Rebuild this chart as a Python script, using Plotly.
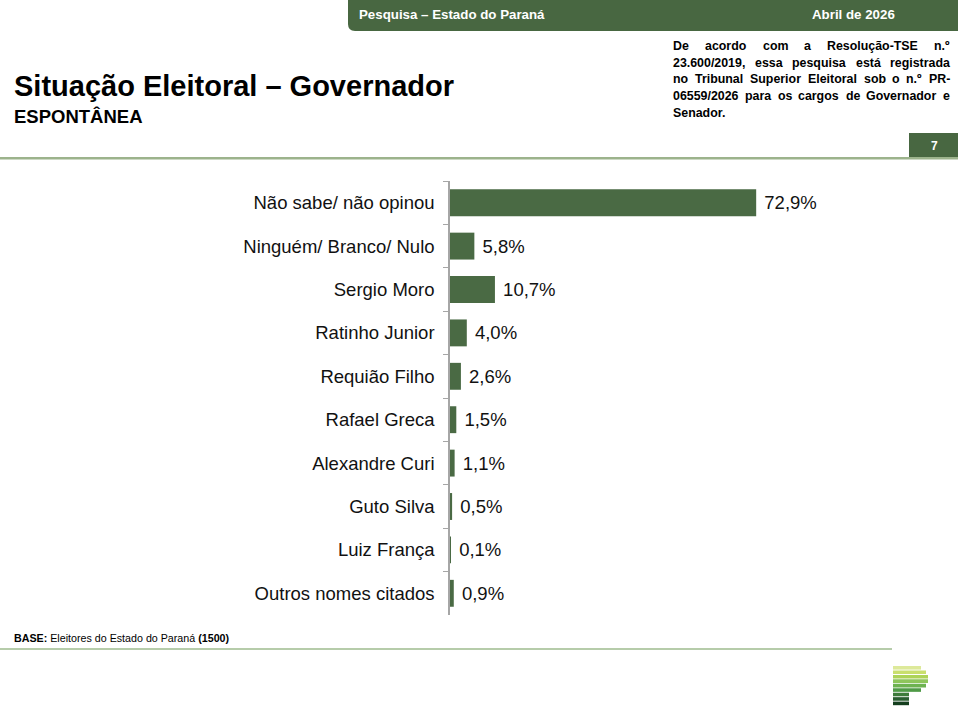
import plotly.graph_objects as go

categories = ["Não sabe/ não opinou", "Ninguém/ Branco/ Nulo", "Sergio Moro", "Ratinho Junior",
              "Requião Filho", "Rafael Greca", "Alexandre Curi", "Guto Silva", "Luiz França",
              "Outros nomes citados"]
values = [72.9, 5.8, 10.7, 4.0, 2.6, 1.5, 1.1, 0.5, 0.1, 0.9]

FIG_W, FIG_H = 958, 718
L, R, T, B = 450, 88, 181, 103
PW, PH = FIG_W - L - R, FIG_H - T - B

def px(x):
    return (x - L) / PW

def py(y):
    return (FIG_H - B - y) / PH

FONT = "Liberation Sans, Arial, sans-serif"
DARK = "#4a6a44"

fig = go.Figure()
fig.add_trace(go.Bar(
    y=categories, x=values, orientation="h",
    marker=dict(color=DARK, line=dict(width=0)),
    texttemplate="\u00a0%{x:.1f}%", textposition="outside",
    textfont=dict(family=FONT, size=18.5, color="#111111"),
    cliponaxis=False, hoverinfo="skip",
))

shapes = []
annotations = []

def note(x, y, text, size, color="black", xanchor="left"):
    annotations.append(dict(x=px(x), y=py(y), xref="paper", yref="paper", xanchor=xanchor,
                            yanchor="middle", text=text, showarrow=False,
                            font=dict(family=FONT, size=size, color=color)))

# header bar with rounded bottom-left
x0, x1, y0, y1, r = 348, 960, -2, 31, 7
path = (f"M {px(x0)},{py(y0)} L {px(x1)},{py(y0)} L {px(x1)},{py(y1)} "
        f"L {px(x0 + r)},{py(y1)} Q {px(x0)},{py(y1)} {px(x0)},{py(y1 - r)} Z")
shapes.append(dict(type="path", xref="paper", yref="paper", path=path,
                   fillcolor="#486741", line=dict(width=0), layer="below"))
note(357, 14, "<b>Pesquisa – Estado do Paraná</b>", 13.3, "white")
note(897, 14, "<b>Abril de 2026</b>", 13.3, "white", "right")

# title
note(12, 86, "<b>Situação Eleitoral – Governador</b>", 29)
note(12, 116, "<b>ESPONTÂNEA</b>", 18.5)

# registration note, justified word by word
W = {' ': 278, '.': 278, ',': 278, '/': 278, '-': 333, 'º': 365}
for ch in "0123456789":
    W[ch] = 556
W.update(dict(a=556, b=611, c=556, d=611, e=556, f=333, g=611, h=611, i=278, j=278, k=556, l=278,
              m=889, n=611, o=611, p=611, q=611, r=389, s=556, t=333, u=611, v=556, w=778, x=556,
              y=556, z=500, A=722, B=722, C=722, D=722, E=667, F=611, G=778, H=722, I=278, L=611,
              M=833, N=722, O=778, P=667, R=722, S=667, T=611, U=722, V=667))
W.update({'ç': 556, 'ã': 556, 'á': 556, 'ó': 611})

def text_w(s, size):
    return sum(W.get(c, 600) for c in s) * size / 1000

NOTE_SIZE = 12.4
note_lines = ["De acordo com a Resolução-TSE n.º",
              "23.600/2019, essa pesquisa está registrada",
              "no Tribunal Superior Eleitoral sob o n.º PR-",
              "06559/2026 para os cargos de Governador e",
              "Senador."]
NX0, NX1 = 671, 948
for i, line in enumerate(note_lines):
    yy = 46 + 16.7 * i
    words = line.split(" ")
    if i == len(note_lines) - 1:
        note(NX0, yy, f"<b>{line}</b>", NOTE_SIZE)
        continue
    total = sum(text_w(w, NOTE_SIZE) for w in words)
    gap = (NX1 - NX0 - total) / (len(words) - 1)
    x = NX0
    for w in words:
        note(x, yy, f"<b>{w}</b>", NOTE_SIZE)
        x += text_w(w, NOTE_SIZE) + gap

# separator line under title and page number box
shapes.append(dict(type="rect", xref="paper", yref="paper", x0=px(0), x1=px(960), y0=py(159.5), y1=py(157),
                   fillcolor="#9cb38c", line=dict(width=0)))
shapes.append(dict(type="rect", xref="paper", yref="paper", x0=px(909), x1=px(960), y0=py(157), y1=py(133),
                   fillcolor="#486741", line=dict(width=0)))
note(934, 146, "<b>7</b>", 12, "white", "center")

# base note and bottom line
note(12, 638, "<b>BASE:</b> Eleitores do Estado do Paraná <b>(1500)</b>", 10.7)
shapes.append(dict(type="line", xref="paper", yref="paper", x0=px(0), x1=px(892), y0=py(649), y1=py(649),
                   line=dict(color="#6f9a57", width=1.2)))

# logo stripes
logo_colors = ["#dde99a", "#c9df6e", "#add358", "#8ec55b", "#6db250", "#4f9a46", "#3d7b3a", "#2a5e30", "#143e1e"]
logo_right = [921, 926, 928, 928, 926, 921, 909, 909, 909]
for i, (c, xr) in enumerate(zip(logo_colors, logo_right)):
    ytop = 666 + i * 4.45
    shapes.append(dict(type="rect", xref="paper", yref="paper", x0=px(893), x1=px(xr),
                       y0=py(ytop + 3.6), y1=py(ytop), fillcolor=c, line=dict(width=0)))

fig.update_layout(
    width=FIG_W, height=FIG_H,
    margin=dict(l=L, r=R, t=T, b=B, autoexpand=False),
    paper_bgcolor="white", plot_bgcolor="white",
    separators=", ",
    showlegend=False,
    bargap=0.38,
    shapes=shapes, annotations=annotations,
    xaxis=dict(range=[0, 100], visible=False, fixedrange=True),
    yaxis=dict(autorange="reversed", type="category", fixedrange=True,
               showline=True, linecolor="#a6a6a6", linewidth=1.5,
               ticks="outside", ticklen=5, tickcolor="#a6a6a6", tickson="boundaries",
               ticklabelstandoff=10, showgrid=False,
               tickfont=dict(family=FONT, size=18.5, color="#111111")),
)

fig.write_html("out.html", config={"displayModeBar": False},
               post_script="document.body.style.margin='0px';")
